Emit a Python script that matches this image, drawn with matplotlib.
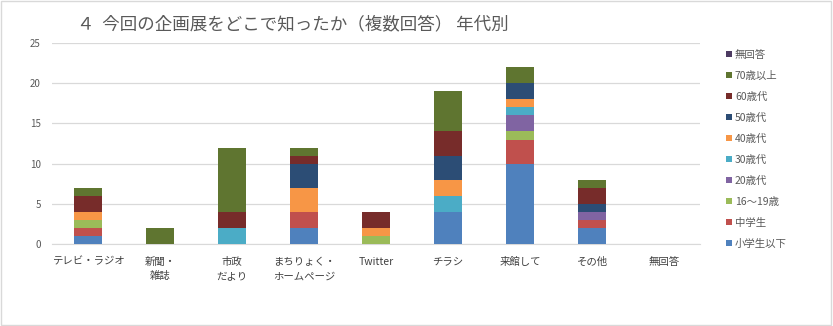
import matplotlib.pyplot as plt
import numpy as np
from matplotlib.patches import Rectangle

plt.rcParams['font.family'] = ['Noto Sans CJK JP', 'DejaVu Sans']

categories = ['テレビ・ラジオ', '新聞・\n雑誌', '市政\nだより', 'まちりょく・\nホームページ',
              'Twitter', 'チラシ', '来館して', 'その他', '無回答']
series_names = ['小学生以下', '中学生', '16～19歳', '20歳代', '30歳代',
                '40歳代', '50歳代', '60歳代', '70歳以上', '無回答']
series_values = [
    [1, 0, 0, 2, 0, 4, 10, 2, 0],   # 小学生以下
    [1, 0, 0, 2, 0, 0, 3, 1, 0],    # 中学生
    [1, 0, 0, 0, 1, 0, 1, 0, 0],    # 16～19歳
    [0, 0, 0, 0, 0, 0, 2, 1, 0],    # 20歳代
    [0, 0, 2, 0, 0, 2, 1, 0, 0],    # 30歳代
    [1, 0, 0, 3, 1, 2, 1, 0, 0],    # 40歳代
    [0, 0, 0, 3, 0, 3, 2, 1, 0],    # 50歳代
    [2, 0, 2, 1, 2, 3, 0, 2, 0],    # 60歳代
    [1, 2, 8, 1, 0, 5, 2, 1, 0],    # 70歳以上
    [0, 0, 0, 0, 0, 0, 0, 0, 0],    # 無回答
]
colors = ['#4F81BD', '#C0504D', '#9BBB59', '#8064A2', '#4BACC6',
          '#F79646', '#2C4D75', '#772C2A', '#5F7530', '#4D3B62']
yticks = [0, 5, 10, 15, 20, 25]

fig = plt.figure(figsize=(8.33, 3.26), dpi=100)
ax = fig.add_axes([0.0624, 0.2515, 0.778, 0.6165])

x = np.arange(len(categories))
bottom = np.zeros(len(categories))
handles = []
for name, vals, c in zip(series_names, series_values, colors):
    vals = np.array(vals, dtype=float)
    b = ax.bar(x, vals, width=0.39, bottom=bottom, color=c, label=name, zorder=3)
    handles.append(b)
    bottom += vals

ax.set_xlim(-0.5, len(categories) - 0.5)
ax.set_ylim(0, 25)
ax.set_yticks(yticks)
ax.set_xticks(x)
ax.set_xticklabels(categories, fontsize=7.5, color='#404040', linespacing=1.6)
ax.tick_params(axis='y', labelsize=7, colors='#595959', length=0, pad=8)
ax.tick_params(axis='x', length=0, pad=9)
ax.grid(axis='y', color='#D9D9D9', linewidth=0.9, zorder=0)
for s in ['top', 'right', 'left']:
    ax.spines[s].set_visible(False)
ax.spines['bottom'].set_color('#D9D9D9')

fig.text(0.093, 0.925, '４  今回の企画展をどこで知ったか（複数回答） 年代別',
         fontsize=12.6, color='#595959', va='center', ha='left')

leg = fig.legend(handles[::-1], series_names[::-1], loc='upper left',
                 bbox_to_anchor=(0.866, 0.86), frameon=False, fontsize=7.5,
                 handlelength=0.6, handleheight=0.6, handletextpad=0.3,
                 labelspacing=1.05, borderaxespad=0)
for t in leg.get_texts():
    t.set_color('#595959')

fig.patches.append(Rectangle((0.001, 0.002), 0.997, 0.995, transform=fig.transFigure,
                             fill=False, edgecolor='#D9D9D9', linewidth=1))

fig.savefig('out.png', dpi=100)
